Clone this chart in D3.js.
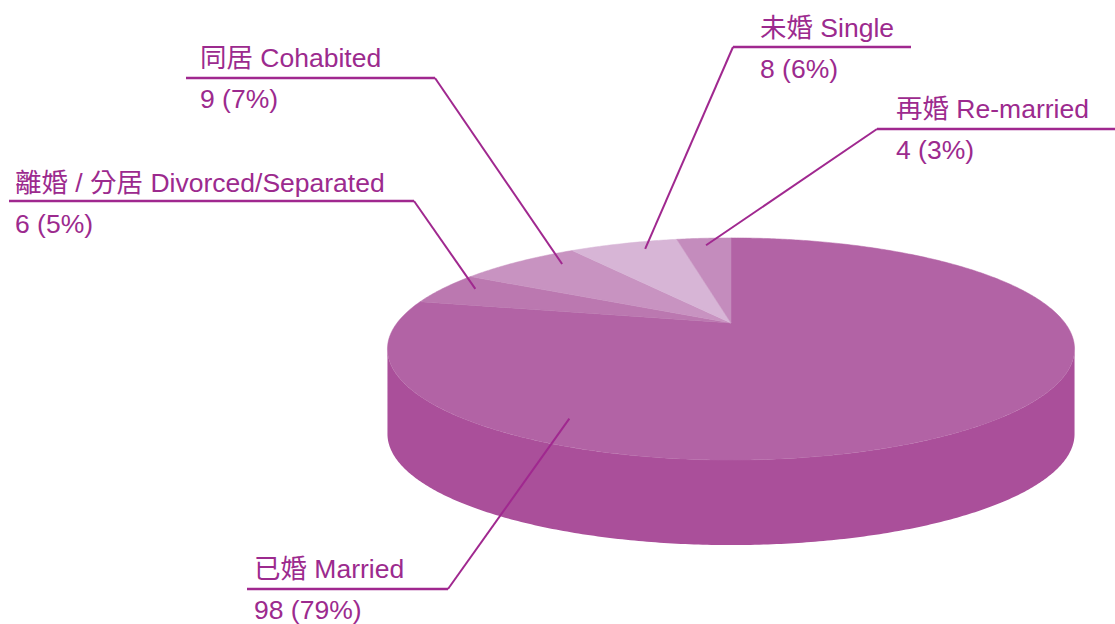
<!DOCTYPE html>
<html>
<head>
<meta charset="utf-8">
<script src="https://cdn.jsdelivr.net/npm/d3@7"></script>
<style>
  body { margin: 0; background: #fff; }
  text { font-family: "Liberation Sans", Arial, "Noto Sans CJK TC", sans-serif; font-size: 26.5px; fill: #9c2a8e; }
</style>
</head>
<body>
<svg></svg>
<script>
// data
var categories = ["已婚 Married", "離婚 / 分居 Divorced/Separated", "同居 Cohabited", "未婚 Single", "再婚 Re-married"];
var counts = [98, 6, 9, 8, 4];
var percents = ["79%", "5%", "7%", "6%", "3%"];

var topColors = ["#b263a5", "#bb78b0", "#c893c1", "#d7b5d6", "#c48cbd"];
var wallColor = "#aa4f9a";
var inkColor = "#a0288f";

var width = 1115;
var height = 624;

// tilted disk, simple perspective
var cx = 731, cy = 323;
var A = 334, B = 105, K = 0.234;
var depth = 85;

var project = function(theta, r){
	var u = r * Math.sin(theta);
	var v = r * Math.cos(theta);
	var d = 1 + K * v;
	return [cx + A * u / d, cy - B * v / d];
};

// label placement: text x, baseline of name, underline y, underline ends,
// which end the leader joins, and where the leader lands in the slice
var labelPos = [
	{ tx: 254, ty: 578, ly: 589, x0: 247, x1: 448, join: "right", ang: 208, r: 0.85 },
	{ tx: 15,  ty: 192, ly: 201, x0: 9,   x1: 414, join: "right", ang: 293, r: 0.9 },
	{ tx: 200, ty: 67,  ly: 78,  x0: 186, x1: 435, join: "right", ang: 318, r: 0.87 },
	{ tx: 760, ty: 37,  ly: 47,  x0: 733, x1: 911, join: "left",  ang: 340, r: 0.9 },
	{ tx: 896, ty: 118, ly: 129, x0: 877, x1: 1115, join: "left", ang: null, r: 0.9 }
];

var slices = d3.pie().sort(null)(counts);

var svg = d3.select("svg")
	.attr("width", width)
	.attr("height", height);

var line = d3.line();

var arcPoints = function(a0, a1, r, dy){
	var n = Math.max(2, Math.ceil(Math.abs(a1 - a0) / 0.01));
	var pts = [];
	for (var i = 0; i <= n; ++i){
		var p = project(a0 + (a1 - a0) * i / n, r);
		pts.push([p[0], p[1] + dy]);
	}
	return pts;
};

// front wall
var thR = Math.acos(-K);
var thL = 2 * Math.PI - thR;
var wall = arcPoints(thR, thL, 1, 0).concat(arcPoints(thL, thR, 1, depth));
svg.append("path")
	.attr("d", line(wall) + "Z")
	.attr("fill", wallColor);

// top face
svg.selectAll("path.slice")
	.data(slices)
	.enter()
	.append("path")
	.attr("class", "slice")
	.attr("d", function(s){
		return line([project(0, 0)].concat(arcPoints(s.startAngle, s.endAngle, 1, 0))) + "Z";
	})
	.attr("fill", function(s, i){ return topColors[i]; })
	.attr("stroke", function(s, i){ return topColors[i]; })
	.attr("stroke-width", 0.5);

// labels
var g = svg.selectAll("g.label")
	.data(slices)
	.enter()
	.append("g")
	.attr("class", "label");

g.append("path")
	.attr("d", function(s, i){
		var L = labelPos[i];
		var ang = L.ang !== null ? L.ang * Math.PI / 180 : (s.startAngle + s.endAngle) / 2;
		var end = project(ang, L.r);
		var jx = L.join === "right" ? L.x1 : L.x0;
		return line([[jx, L.ly], end]);
	})
	.attr("fill", "none")
	.attr("stroke", inkColor)
	.attr("stroke-width", 2);

g.append("line")
	.attr("x1", function(s, i){ return labelPos[i].x0; })
	.attr("x2", function(s, i){ return labelPos[i].x1; })
	.attr("y1", function(s, i){ return labelPos[i].ly; })
	.attr("y2", function(s, i){ return labelPos[i].ly; })
	.attr("stroke", inkColor)
	.attr("stroke-width", 2.5);

g.append("text")
	.attr("x", function(s, i){ return labelPos[i].tx; })
	.attr("y", function(s, i){ return labelPos[i].ty; })
	.text(function(s, i){ return categories[i]; });

g.append("text")
	.attr("x", function(s, i){ return labelPos[i].tx; })
	.attr("y", function(s, i){ return labelPos[i].ty + 41; })
	.text(function(s, i){ return counts[i] + " (" + percents[i] + ")"; });
</script>
</body>
</html>
